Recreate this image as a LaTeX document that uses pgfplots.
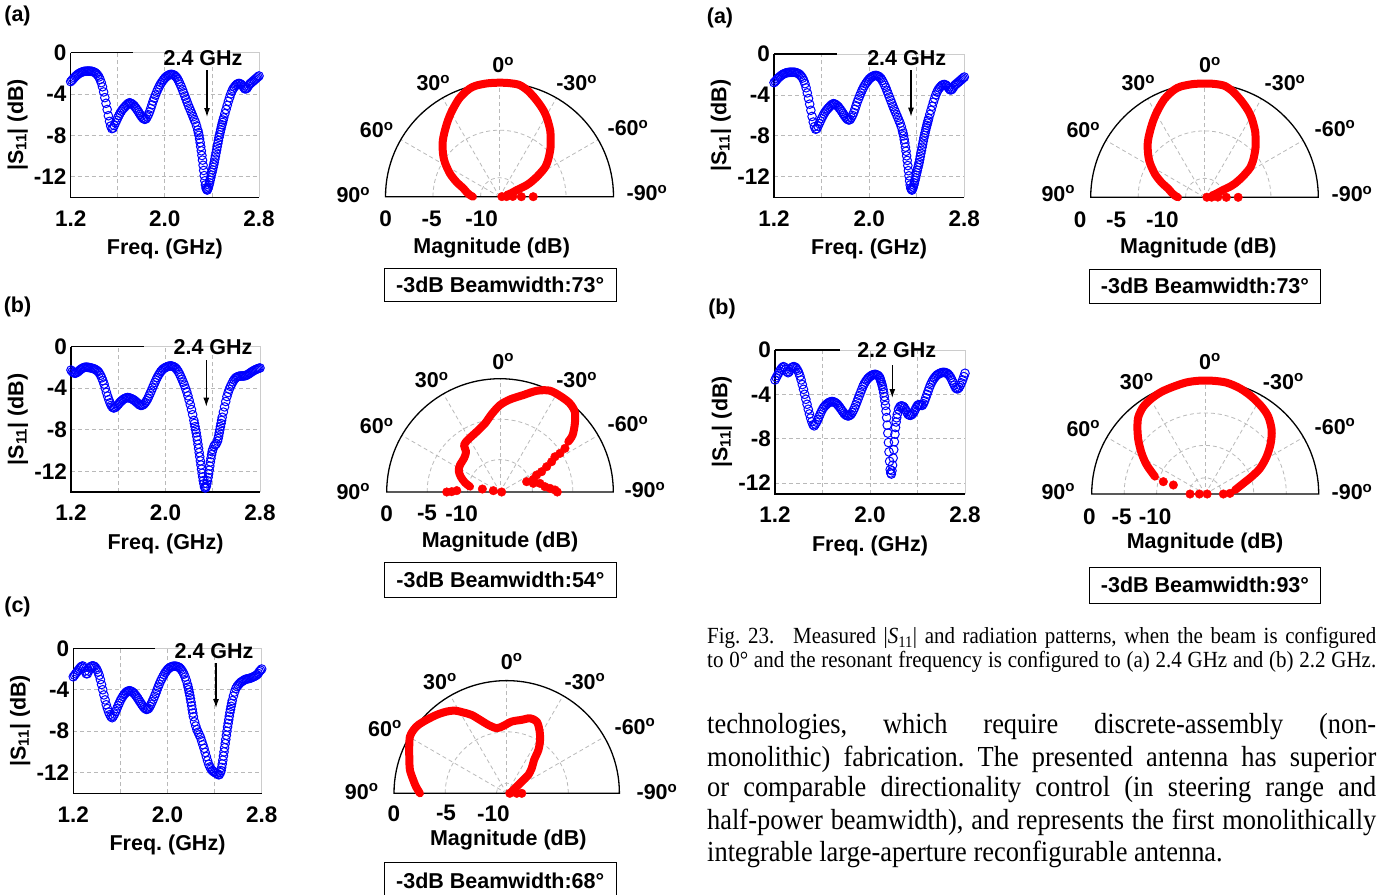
\documentclass[border=0pt]{standalone}
\usepackage{pgfplots}
\pgfplotsset{compat=1.18}
\usepackage{pgfplotstable}
\usepackage{graphicx}
\usepackage{fontspec}
\setmainfont{Liberation Serif}
\newfontfamily\sfb{Liberation Sans}
\usetikzlibrary{arrows.meta}
\frenchspacing

\newcommand\pf{\fontsize{21.5}{24}\selectfont\sfb\bfseries}
\newcommand\tf{\fontsize{22.5}{24}\selectfont\sfb\bfseries}
\newcommand\dg{\textsuperscript{o}}

% ---------- |S11| data (GHz, dB) ----------
\pgfplotstableread{
f s
1.20 -2.80
1.21 -2.68
1.22 -2.55
1.23 -2.42
1.24 -2.30
1.25 -2.20
1.26 -2.10
1.27 -2.02
1.28 -1.95
1.29 -1.90
1.30 -1.85
1.31 -1.82
1.32 -1.80
1.33 -1.79
1.34 -1.78
1.35 -1.78
1.36 -1.78
1.37 -1.79
1.38 -1.80
1.39 -1.84
1.40 -1.88
1.41 -1.95
1.42 -2.05
1.43 -2.18
1.44 -2.35
1.45 -2.60
1.46 -2.90
1.47 -3.30
1.48 -3.80
1.49 -4.35
1.50 -4.90
1.51 -5.50
1.52 -6.10
1.53 -6.65
1.54 -7.10
1.55 -7.35
1.56 -7.30
1.57 -7.05
1.58 -6.80
1.59 -6.55
1.60 -6.30
1.61 -6.07
1.62 -5.85
1.63 -5.67
1.64 -5.50
1.65 -5.37
1.66 -5.25
1.67 -5.12
1.68 -5.00
1.69 -4.90
1.70 -4.85
1.71 -4.88
1.72 -4.95
1.73 -5.05
1.74 -5.15
1.75 -5.30
1.76 -5.45
1.77 -5.62
1.78 -5.80
1.79 -5.98
1.80 -6.15
1.81 -6.30
1.82 -6.40
1.83 -6.45
1.84 -6.40
1.85 -6.22
1.86 -6.00
1.87 -5.72
1.88 -5.40
1.89 -5.05
1.90 -4.70
1.91 -4.40
1.92 -4.10
1.93 -3.82
1.94 -3.55
1.95 -3.32
1.96 -3.10
1.97 -2.92
1.98 -2.75
1.99 -2.60
2.00 -2.45
2.01 -2.35
2.02 -2.25
2.03 -2.18
2.04 -2.12
2.05 -2.10
2.06 -2.10
2.07 -2.13
2.08 -2.18
2.09 -2.28
2.10 -2.40
2.11 -2.58
2.12 -2.80
2.13 -3.05
2.14 -3.30
2.15 -3.60
2.16 -3.90
2.17 -4.20
2.18 -4.50
2.19 -4.80
2.20 -5.10
2.21 -5.38
2.22 -5.65
2.23 -5.92
2.24 -6.20
2.25 -6.48
2.26 -6.75
2.27 -7.10
2.28 -7.50
2.285 -7.75
2.29 -8.00
2.295 -8.35
2.30 -8.70
2.305 -9.10
2.31 -9.50
2.315 -9.95
2.32 -10.40
2.325 -10.90
2.33 -11.40
2.335 -11.90
2.34 -12.40
2.345 -12.80
2.35 -13.10
2.355 -13.22
2.36 -13.30
2.365 -13.18
2.37 -13.00
2.375 -12.80
2.38 -12.60
2.385 -12.35
2.39 -12.10
2.395 -11.85
2.40 -11.60
2.405 -11.35
2.41 -11.10
2.415 -10.85
2.42 -10.60
2.425 -10.30
2.43 -10.00
2.435 -9.70
2.44 -9.40
2.445 -9.10
2.45 -8.80
2.455 -8.50
2.46 -8.20
2.465 -7.95
2.47 -7.70
2.475 -7.45
2.48 -7.20
2.485 -6.97
2.49 -6.75
2.495 -6.52
2.50 -6.30
2.51 -5.90
2.52 -5.50
2.53 -5.10
2.54 -4.70
2.55 -4.35
2.56 -4.00
2.57 -3.72
2.58 -3.50
2.59 -3.33
2.60 -3.20
2.61 -3.08
2.62 -3.00
2.63 -2.98
2.64 -3.00
2.65 -3.08
2.66 -3.20
2.67 -3.35
2.68 -3.50
2.69 -3.50
2.70 -3.40
2.71 -3.22
2.72 -3.05
2.73 -2.95
2.74 -2.85
2.75 -2.75
2.76 -2.65
2.77 -2.55
2.78 -2.45
2.79 -2.35
2.80 -2.25
}\SA

\pgfplotstableread{
f s
1.20 -2.25
1.21 -2.40
1.22 -2.50
1.23 -2.55
1.24 -2.55
1.25 -2.48
1.26 -2.40
1.27 -2.30
1.28 -2.20
1.29 -2.12
1.30 -2.05
1.31 -2.00
1.32 -1.98
1.33 -1.97
1.34 -1.98
1.35 -2.00
1.36 -2.02
1.37 -2.05
1.38 -2.08
1.39 -2.11
1.40 -2.15
1.41 -2.22
1.42 -2.30
1.43 -2.40
1.44 -2.55
1.45 -2.75
1.46 -3.00
1.47 -3.28
1.48 -3.60
1.49 -4.00
1.50 -4.40
1.51 -4.77
1.52 -5.10
1.53 -5.40
1.54 -5.65
1.55 -5.82
1.56 -5.90
1.57 -5.88
1.58 -5.80
1.59 -5.68
1.60 -5.55
1.61 -5.42
1.62 -5.30
1.63 -5.20
1.64 -5.10
1.65 -5.02
1.66 -4.95
1.67 -4.92
1.68 -4.90
1.69 -4.92
1.70 -4.95
1.71 -5.00
1.72 -5.05
1.73 -5.12
1.74 -5.20
1.75 -5.30
1.76 -5.40
1.77 -5.50
1.78 -5.60
1.79 -5.65
1.80 -5.65
1.81 -5.60
1.82 -5.50
1.83 -5.37
1.84 -5.20
1.85 -5.00
1.86 -4.75
1.87 -4.50
1.88 -4.25
1.89 -3.97
1.90 -3.70
1.91 -3.45
1.92 -3.20
1.93 -2.97
1.94 -2.75
1.95 -2.57
1.96 -2.40
1.97 -2.27
1.98 -2.15
1.99 -2.07
2.00 -2.00
2.01 -1.95
2.02 -1.90
2.03 -1.87
2.04 -1.85
2.05 -1.86
2.06 -1.88
2.07 -1.93
2.08 -2.00
2.09 -2.11
2.10 -2.25
2.11 -2.43
2.12 -2.65
2.13 -2.90
2.14 -3.15
2.15 -3.42
2.16 -3.70
2.17 -4.02
2.18 -4.35
2.19 -4.73
2.20 -5.15
2.21 -5.58
2.22 -6.05
2.23 -6.55
2.24 -7.10
2.245 -7.40
2.25 -7.70
2.255 -8.00
2.26 -8.30
2.265 -8.65
2.27 -9.00
2.275 -9.40
2.28 -9.80
2.285 -10.20
2.29 -10.60
2.295 -11.00
2.30 -11.40
2.305 -11.80
2.31 -12.20
2.315 -12.55
2.32 -12.90
2.325 -13.20
2.33 -13.50
2.335 -13.60
2.34 -13.60
2.345 -13.45
2.35 -13.20
2.355 -12.90
2.36 -12.60
2.365 -12.25
2.37 -11.90
2.375 -11.50
2.38 -11.10
2.385 -10.75
2.39 -10.40
2.395 -10.12
2.40 -9.90
2.41 -9.60
2.42 -9.45
2.43 -9.35
2.44 -9.10
2.445 -8.85
2.45 -8.60
2.455 -8.30
2.46 -8.00
2.465 -7.70
2.47 -7.40
2.475 -7.10
2.48 -6.80
2.49 -6.30
2.50 -5.80
2.51 -5.28
2.52 -4.80
2.53 -4.42
2.54 -4.10
2.55 -3.83
2.56 -3.60
2.57 -3.38
2.58 -3.20
2.59 -3.05
2.60 -2.95
2.61 -2.90
2.62 -2.85
2.63 -2.83
2.64 -2.82
2.65 -2.82
2.66 -2.82
2.67 -2.80
2.68 -2.78
2.69 -2.72
2.70 -2.65
2.71 -2.58
2.72 -2.50
2.73 -2.42
2.74 -2.35
2.75 -2.28
2.76 -2.22
2.77 -2.17
2.78 -2.12
2.79 -2.08
2.80 -2.05
}\SB

\pgfplotstableread{
f s
1.20 -2.75
1.21 -2.60
1.22 -2.45
1.23 -2.30
1.24 -2.15
1.25 -2.00
1.26 -1.85
1.27 -1.75
1.28 -1.70
1.29 -1.90
1.30 -2.20
1.31 -2.45
1.32 -2.45
1.33 -2.20
1.34 -1.90
1.35 -1.75
1.36 -1.70
1.37 -1.70
1.38 -1.75
1.39 -1.88
1.40 -2.05
1.41 -2.30
1.42 -2.60
1.43 -3.02
1.44 -3.50
1.45 -4.00
1.46 -4.50
1.47 -4.98
1.48 -5.45
1.49 -5.82
1.50 -6.15
1.51 -6.40
1.52 -6.60
1.53 -6.70
1.54 -6.55
1.55 -6.35
1.56 -6.10
1.57 -5.83
1.58 -5.55
1.59 -5.30
1.60 -5.05
1.61 -4.83
1.62 -4.65
1.63 -4.48
1.64 -4.35
1.65 -4.23
1.66 -4.15
1.67 -4.11
1.68 -4.10
1.69 -4.13
1.70 -4.20
1.71 -4.29
1.72 -4.40
1.73 -4.54
1.74 -4.70
1.75 -4.87
1.76 -5.05
1.77 -5.22
1.78 -5.40
1.79 -5.56
1.80 -5.70
1.81 -5.82
1.82 -5.90
1.83 -5.88
1.84 -5.80
1.85 -5.62
1.86 -5.40
1.87 -5.16
1.88 -4.90
1.89 -4.63
1.90 -4.35
1.91 -4.05
1.92 -3.75
1.93 -3.47
1.94 -3.20
1.95 -2.97
1.96 -2.75
1.97 -2.55
1.98 -2.35
1.99 -2.20
2.00 -2.05
2.01 -1.95
2.02 -1.85
2.03 -1.80
2.04 -1.75
2.05 -1.73
2.06 -1.72
2.07 -1.73
2.08 -1.75
2.09 -1.79
2.10 -1.85
2.11 -1.96
2.12 -2.10
2.13 -2.28
2.14 -2.50
2.15 -2.78
2.16 -3.10
2.17 -3.50
2.175 -3.75
2.18 -4.00
2.185 -4.27
2.19 -4.55
2.195 -4.87
2.20 -5.20
2.205 -5.55
2.21 -5.90
2.215 -6.25
2.22 -6.60
2.23 -7.10
2.24 -7.50
2.25 -7.85
2.26 -8.10
2.27 -8.35
2.28 -8.60
2.29 -8.95
2.30 -9.30
2.31 -9.65
2.32 -10.05
2.33 -10.45
2.34 -10.85
2.35 -11.20
2.36 -11.45
2.37 -11.65
2.38 -11.80
2.39 -11.90
2.40 -11.95
2.41 -12.05
2.42 -12.10
2.43 -12.20
2.44 -12.20
2.45 -12.00
2.455 -11.80
2.46 -11.50
2.465 -11.17
2.47 -10.80
2.475 -10.40
2.48 -10.00
2.485 -9.60
2.49 -9.20
2.495 -8.80
2.50 -8.40
2.505 -8.00
2.51 -7.60
2.515 -7.25
2.52 -6.90
2.525 -6.55
2.53 -6.20
2.535 -5.90
2.54 -5.60
2.545 -5.32
2.55 -5.05
2.56 -4.60
2.57 -4.22
2.58 -3.90
2.59 -3.70
2.60 -3.55
2.61 -3.42
2.62 -3.30
2.63 -3.22
2.64 -3.15
2.65 -3.07
2.66 -3.00
2.67 -2.97
2.68 -2.95
2.69 -2.92
2.70 -2.90
2.71 -2.85
2.72 -2.80
2.73 -2.75
2.74 -2.70
2.75 -2.63
2.76 -2.55
2.77 -2.42
2.78 -2.25
2.79 -2.12
2.80 -2.00
}\SC

\pgfplotstableread{
f s
1.20 -2.70
1.21 -2.50
1.22 -2.30
1.23 -2.10
1.24 -1.90
1.25 -1.73
1.26 -1.60
1.27 -1.50
1.28 -1.55
1.29 -1.75
1.30 -1.95
1.31 -2.05
1.32 -1.95
1.33 -1.75
1.34 -1.60
1.35 -1.52
1.36 -1.50
1.37 -1.55
1.38 -1.65
1.39 -1.83
1.40 -2.05
1.41 -2.35
1.42 -2.70
1.43 -3.12
1.44 -3.55
1.45 -4.00
1.46 -4.45
1.47 -4.90
1.48 -5.35
1.49 -5.77
1.50 -6.15
1.51 -6.48
1.52 -6.75
1.53 -6.85
1.54 -6.70
1.55 -6.52
1.56 -6.30
1.57 -6.05
1.58 -5.80
1.59 -5.57
1.60 -5.35
1.61 -5.18
1.62 -5.05
1.63 -4.94
1.64 -4.85
1.65 -4.77
1.66 -4.70
1.67 -4.67
1.68 -4.65
1.69 -4.67
1.70 -4.70
1.71 -4.77
1.72 -4.85
1.73 -4.97
1.74 -5.10
1.75 -5.25
1.76 -5.40
1.77 -5.55
1.78 -5.70
1.79 -5.82
1.80 -5.90
1.81 -5.94
1.82 -5.95
1.83 -5.90
1.84 -5.80
1.85 -5.65
1.86 -5.45
1.87 -5.22
1.88 -4.95
1.89 -4.68
1.90 -4.40
1.91 -4.12
1.92 -3.85
1.93 -3.57
1.94 -3.30
1.95 -3.08
1.96 -2.90
1.97 -2.74
1.98 -2.60
1.99 -2.49
2.00 -2.40
2.01 -2.32
2.02 -2.25
2.03 -2.22
2.04 -2.20
2.05 -2.21
2.06 -2.25
2.07 -2.33
2.08 -2.45
2.085 -2.58
2.09 -2.75
2.095 -2.92
2.10 -3.10
2.105 -3.30
2.11 -3.55
2.115 -3.85
2.12 -4.20
2.125 -4.58
2.13 -5.00
2.135 -5.52
2.14 -6.10
2.145 -6.78
2.15 -7.50
2.155 -8.35
2.16 -9.20
2.165 -10.05
2.17 -10.80
2.175 -11.10
2.18 -11.20
2.185 -10.90
2.19 -10.40
2.195 -9.75
2.20 -9.00
2.205 -8.28
2.21 -7.60
2.215 -7.00
2.22 -6.50
2.225 -6.12
2.23 -5.80
2.24 -5.35
2.25 -5.15
2.26 -5.05
2.27 -5.05
2.28 -5.10
2.29 -5.22
2.30 -5.40
2.31 -5.60
2.32 -5.80
2.33 -5.88
2.34 -5.90
2.35 -5.85
2.36 -5.75
2.37 -5.60
2.38 -5.40
2.39 -5.18
2.40 -5.00
2.41 -4.93
2.42 -4.95
2.43 -5.00
2.44 -5.00
2.45 -4.85
2.46 -4.60
2.47 -4.30
2.48 -4.00
2.49 -3.70
2.50 -3.40
2.51 -3.13
2.52 -2.90
2.53 -2.71
2.54 -2.55
2.55 -2.42
2.56 -2.30
2.57 -2.22
2.58 -2.15
2.59 -2.09
2.60 -2.05
2.61 -2.03
2.62 -2.02
2.63 -2.03
2.64 -2.05
2.65 -2.11
2.66 -2.20
2.67 -2.33
2.68 -2.50
2.69 -2.72
2.70 -2.95
2.71 -3.18
2.72 -3.40
2.73 -3.50
2.74 -3.50
2.75 -3.38
2.76 -3.20
2.77 -2.97
2.78 -2.70
2.79 -2.40
2.80 -2.10
}\SD

% ---------- radiation patterns (angle deg, magnitude dB) ----------
\pgfplotstableread{
a m
90 -9.2
87 -8.9
82 -8.5
77 -8.1
71 -7.2
65 -6.25
58.5 -5.3
54.5 -4.75
50.5 -4.25
47 -3.8
43 -3.35
38.5 -2.85
34 -2.3
30 -1.8
26 -1.3
22.5 -0.85
19 -0.5
15.5 -0.2
12 -0.05
6 0.0
0 0.0
-5 0.0
-10 -0.05
-14.5 -0.4
-19 -0.9
-23 -1.35
-27 -1.8
-30.5 -2.25
-34 -2.75
-38 -3.3
-42 -3.95
-45.5 -4.45
-49 -5.0
-53 -5.6
-57 -6.25
-59.5 -6.9
-62 -7.55
-64.5 -8.2
-67 -8.9
-69 -10.05
-73 -10.7
-77 -11.2
}\PA
\pgfplotstableread{
a m
-88 -11.75
-89 -11.25
-89 -10.6
-90 -9.7
-90 -8.45
}\PAd

\pgfplotstableread{
a m
79.9 -10.24
75.1 -9.53
68.7 -8.79
62.7 -8.26
56.0 -8.04
46.9 -7.91
40.1 -7.49
37.5 -6.69
31.0 -6.41
21.1 -6.01
12.3 -5.32
6.1 -4.32
0 -3.26
-6.2 -2.49
-13.5 -1.68
-19.9 -0.70
-26.1 -0.05
-32 0.0
-38 -0.05
-43 -0.45
-47.5 -1.45
-51.9 -2.6
-53.6 -3.52
}\PB
\pgfplotstableread{
a m
-56.1 -4.33
-57.2 -5.19
-57.3 -5.93
-59.6 -6.6
-61.5 -7.44
-64 -8.28
-65.1 -9.01
-69.2 -9.6
-68.8 -10.47
-75.4 -9.75
-77.8 -8.95
-83.2 -8.41
-85.8 -7.81
-87.9 -7.2
-90 -6.92
80.4 -11.79
78.7 -13.16
88.2 -8.65
89.6 -8.03
90 -7.42
-90 -13.8
}\PBd

\pgfplotstableread{
a m
90 -2.53
85.8 -2.12
81.9 -1.79
76.4 -1.28
69.4 -0.84
64.4 -0.45
59.6 -0.05
55.8 0.0
52.3 -0.09
47.5 -0.39
41.8 -0.73
36.3 -1.1
32.0 -1.48
28.2 -2.05
24.1 -2.62
20.0 -3.37
15.0 -4.09
8.7 -4.57
2.8 -4.41
-4.0 -3.98
-11.6 -3.68
-17.3 -3.33
-22.7 -3.41
-27.3 -4.04
-32.0 -4.85
-36.2 -5.76
-39.4 -6.79
-45 -7.54
-49.8 -8.23
-50.7 -8.68
-53.1 -9.37
-59 -10.05
-71.6 -10.49
}\PC
\pgfplotstableread{
a m
-90 -10.02
-90 -9.53
-90 -10.7
}\PCd

\pgfplotstableread{
a m
70.9 -9.31
63.6 -7.43
57.4 -5.87
51.1 -4.25
45.2 -2.76
40.8 -1.74
35.3 -1.0
29.2 -0.6
23.0 -0.36
16.5 -0.24
9.4 -0.05
2.6 0.0
-4.1 0.0
-10.9 -0.02
-18.2 -0.35
-25.5 -0.87
-32.9 -1.47
-39.2 -2.11
-46.1 -3.28
-52.3 -4.74
-58.7 -6.42
-64.9 -8.17
-69.5 -9.85
-74.4 -11.4
-82.4 -12.86
}\PD
\pgfplotstableread{
a m
73.6 -10.77
74.2 -12.4
90 -15.16
90 -16.6
-90 -17.2
-88.5 -13.68
-90 -14.7
}\PDd

\pgfplotsset{
  sax/.style={anchor=north west, scale only axis, xmin=1.2, xmax=2.8, ymax=0,
    xtick={1.2,1.6,2.0,2.4,2.8}, ytick={0,-4,-8,-12},
    xticklabels={}, yticklabels={}, major tick length=0pt,
    grid=major, grid style={gray!55, dash pattern=on 4pt off 3pt, line width=0.8pt},
    axis line style={draw=none}, clip=false},
  scurve/.style={only marks, mark=o, color=blue, mark size=4.3pt, mark options={line width=1pt}},
  pax/.style={anchor=north west, scale only axis, hide axis, clip=false,
    xmin=-#1, xmax=#1, ymin=0, ymax=#1},
  table/ptab/.style={x expr={-(\thisrow{m}+#1)*sin(\thisrow{a})}, y expr={(\thisrow{m}+#1)*cos(\thisrow{a})}},
  pline/.style={color=red, line width=8pt, line cap=round, line join=round, smooth, tension=0.5, mark=none},
  pdots/.style={only marks, mark=*, color=red, mark size=4.3pt},
}
\tikzset{gridst/.style={gray!55, dash pattern=on 4pt off 3pt, line width=0.8pt}}

\newcommand\sframe[1]{%
  \draw[gray!40, line width=0.8pt] (rel axis cs:0,1) -- (rel axis cs:1,1) -- (rel axis cs:1,0);
  \draw[black, line width=1.2pt] (rel axis cs:0,1) -- (rel axis cs:0,0) -- (rel axis cs:1,0);
  \draw[black, line width=1.2pt] (rel axis cs:0,1) -- (axis cs:#1,0);}
\newcommand\sticks[1]{%
  \node[anchor=east,font=\tf,inner sep=0pt,xshift=-4pt] at (axis cs:1.2,0) {0};
  \node[anchor=east,font=\tf,inner sep=0pt,xshift=-4pt] at (axis cs:1.2,-4) {-4};
  \node[anchor=east,font=\tf,inner sep=0pt,xshift=-4pt] at (axis cs:1.2,-8) {-8};
  \node[anchor=east,font=\tf,inner sep=0pt,xshift=-4pt] at (axis cs:1.2,-12) {-12};
  \node[font=\tf,inner sep=0pt,yshift=-21pt] at (axis cs:1.2,#1) {1.2};
  \node[font=\tf,inner sep=0pt,yshift=-21pt] at (axis cs:2.0,#1) {2.0};
  \node[font=\tf,inner sep=0pt,yshift=-21pt] at (axis cs:2.8,#1) {2.8};
  \node[font=\pf,inner sep=0pt,yshift=-52pt] at (axis cs:2.0,#1) {Freq. (GHz)};
  \node[font=\pf,inner sep=0pt,xshift=-53pt,rotate=90] at (rel axis cs:0,0.5) {|S\textsubscript{11}| (dB)};}
\newcommand\pspokes[1]{\pgfplotsinvokeforeach{-60,-30,0,30,60}{\draw[gridst] (axis cs:0,0) -- (axis cs:{-#1*sin(##1)},{#1*cos(##1)});}}
\newcommand\pframe[2]{\draw[black,line width=1.3pt] (axis cs:-#1,0) arc[start angle=180,end angle=0,radius=#2pt] -- cycle;}
\newcommand\parc[2]{\draw[gridst] (axis cs:-#1,0) arc[start angle=180,end angle=0,radius=#2pt];}
\newcommand\capline[1]{\scalebox{1}[1.1]{\makebox[669pt][s]{#1}}}

\begin{document}
\begin{tikzpicture}
\path[use as bounding box] (0pt,0pt) rectangle (1388pt,-894pt);

% ===== S11 plots =====
\begin{axis}[sax, at={(70.7pt,-52.7pt)}, width=188.3pt, height=144.6pt, ymin=-14]
\addplot[scurve] table[x=f,y=s] {\SA};
\sframe{1.733}\sticks{-14}
\end{axis}

\begin{axis}[sax, at={(71pt,-346.7pt)}, width=189pt, height=145.3pt, ymin=-14]
\addplot[scurve] table[x=f,y=s] {\SB};
\sframe{1.818}\sticks{-14}
\end{axis}

\begin{axis}[sax, at={(73.3pt,-648.3pt)}, width=188.4pt, height=145pt, ymin=-14]
\addplot[scurve] table[x=f,y=s] {\SC};
\sframe{1.894}\sticks{-14}
\end{axis}

\begin{axis}[sax, at={(774pt,-54pt)}, width=190.3pt, height=143.3pt, ymin=-14]
\addplot[scurve] table[x=f,y=s] {\SA};
\sframe{1.727}\sticks{-14}
\end{axis}

\begin{axis}[sax, at={(775pt,-350pt)}, width=190pt, height=144pt, ymin=-13]
\addplot[scurve] table[x=f,y=s] {\SD};
\sframe{1.75}\sticks{-13}
\end{axis}

% ===== polar plots =====
\begin{axis}[pax=12, at={(385.5pt,-82.7pt)}, width=228pt, height=114pt]
\parc{7}{66.5}\parc{2}{19}\pspokes{12}\pframe{12}{114}
\addplot[pline] table[ptab=12] {\PA};
\addplot[pdots] table[ptab=12] {\PAd};
\end{axis}

\begin{axis}[pax=14, at={(386.7pt,-378.7pt)}, width=226.6pt, height=113.3pt]
\parc{9}{72.8}\parc{4}{32.4}\pspokes{14}\pframe{14}{113.3}
\addplot[pline] table[ptab=14] {\PB};
\addplot[pdots] table[ptab=14] {\PBd};
\end{axis}

\begin{axis}[pax=11, at={(394pt,-680.6pt)}, width=225.4pt, height=112.7pt]
\parc{6}{61.5}\parc{1}{10.2}\pspokes{11}\pframe{11}{112.7}
\addplot[pline] table[ptab=11] {\PC};
\addplot[pdots] table[ptab=11] {\PCd};
\end{axis}

\begin{axis}[pax=12, at={(1090.7pt,-83.5pt)}, width=227.6pt, height=113.8pt]
\parc{7}{66.4}\parc{2}{19}\pspokes{12}\pframe{12}{113.8}
\addplot[pline] table[ptab=12] {\PA};
\addplot[pdots] table[ptab=12] {\PAd};
\end{axis}

\begin{axis}[pax=17.5, at={(1091.7pt,-380.5pt)}, width=227pt, height=113.5pt]
\parc{12.5}{81.1}\parc{7.5}{48.6}\parc{2.5}{16.2}\pspokes{17.5}\pframe{17.5}{113.5}
\addplot[pline] table[ptab=17.5] {\PD};
\addplot[pdots] table[ptab=17.5] {\PDd};
\end{axis}

% ===== texts =====
\begin{scope}[x=1pt,y=-1pt]
\tikzset{every node/.style={inner sep=0pt}}
% panel letters
\node[font=\pf] at (17.5,16) {(a)};
\node[font=\pf] at (17.5,307) {(b)};
\node[font=\pf] at (17.5,607) {(c)};
\node[font=\pf] at (720,18) {(a)};
\node[font=\pf] at (722,309) {(b)};
% frequency markers
\node[font=\pf] at (203,58) {2.4 GHz};
\draw[-{Latex[length=9pt,width=6pt]}, line width=1.2pt] (207,70) -- (207,117);
\node[font=\pf] at (213,346.7) {2.4 GHz};
\draw[-{Latex[length=9pt,width=6pt]}, line width=1.2pt] (206.3,360) -- (206.3,406.7);
\node[font=\pf] at (214,651) {2.4 GHz};
\draw[-{Latex[length=9pt,width=6pt]}, line width=1.2pt] (216,663) -- (216,708);
\node[font=\pf] at (906.7,58) {2.4 GHz};
\draw[-{Latex[length=9pt,width=6pt]}, line width=1.2pt] (911,70) -- (911,116.7);
\node[font=\pf] at (896.7,350) {2.2 GHz};
\draw[-{Latex[length=9pt,width=6pt]}, line width=1.2pt] (892.3,365) -- (892.3,398);

% polar labels left (a)
\node[font=\pf] at (503.3,65) {0\dg};
\node[font=\pf] at (433.3,83.3) {30\dg};
\node[font=\pf] at (576.7,83.3) {-30\dg};
\node[font=\pf] at (376.7,130) {60\dg};
\node[font=\pf] at (628,128) {-60\dg};
\node[font=\pf] at (353.3,195) {90\dg};
\node[font=\pf] at (647,193) {-90\dg};
\node[font=\tf] at (385.7,219) {0};
\node[font=\tf] at (431.7,219) {-5};
\node[font=\tf] at (481.7,219) {-10};
\node[font=\pf] at (491.7,248.3) {Magnitude (dB)};
\draw[line width=1pt] (384.3,268.3) rectangle (616,301.7);
\node[font=\pf] at (500.2,285) {-3dB Beamwidth:73°};

% polar labels left (b)
\node[font=\pf] at (503.3,361.7) {0\dg};
\node[font=\pf] at (431.7,380) {30\dg};
\node[font=\pf] at (576.7,380) {-30\dg};
\node[font=\pf] at (376.7,426) {60\dg};
\node[font=\pf] at (628,424) {-60\dg};
\node[font=\pf] at (353.3,491.7) {90\dg};
\node[font=\pf] at (645,490) {-90\dg};
\node[font=\tf] at (386.7,513.3) {0};
\node[font=\tf] at (427,513.3) {-5};
\node[font=\tf] at (461.7,513.3) {-10};
\node[font=\pf] at (500,541.7) {Magnitude (dB)};
\draw[line width=1pt] (384.3,562.7) rectangle (616.7,597.7);
\node[font=\pf] at (500.5,580) {-3dB Beamwidth:54°};

% polar labels left (c)
\node[font=\pf] at (511.7,661.7) {0\dg};
\node[font=\pf] at (440,681.7) {30\dg};
\node[font=\pf] at (585,681.7) {-30\dg};
\node[font=\pf] at (385,728.3) {60\dg};
\node[font=\pf] at (635,726.7) {-60\dg};
\node[font=\pf] at (361.7,791.7) {90\dg};
\node[font=\pf] at (657,792) {-90\dg};
\node[font=\tf] at (394,813.3) {0};
\node[font=\tf] at (446,813.3) {-5};
\node[font=\tf] at (493.3,813.3) {-10};
\node[font=\pf] at (508.3,840) {Magnitude (dB)};
\draw[line width=1pt] (384.3,862.7) rectangle (616,900);
\node[font=\pf] at (500.2,880.7) {-3dB Beamwidth:68°};

% polar labels right (a)
\node[font=\pf] at (1210,65) {0\dg};
\node[font=\pf] at (1138.3,83.3) {30\dg};
\node[font=\pf] at (1285,83.3) {-30\dg};
\node[font=\pf] at (1083.3,130) {60\dg};
\node[font=\pf] at (1335,128.3) {-60\dg};
\node[font=\pf] at (1058.3,193.3) {90\dg};
\node[font=\pf] at (1352,194) {-90\dg};
\node[font=\tf] at (1080,220) {0};
\node[font=\tf] at (1116,220) {-5};
\node[font=\tf] at (1162.3,220) {-10};
\node[font=\pf] at (1198.3,248.3) {Magnitude (dB)};
\draw[line width=1pt] (1089.3,269.3) rectangle (1320.7,303.3);
\node[font=\pf] at (1205,286) {-3dB Beamwidth:73°};

% polar labels right (b)
\node[font=\pf] at (1210,361.7) {0\dg};
\node[font=\pf] at (1136.7,381.7) {30\dg};
\node[font=\pf] at (1283.3,381.7) {-30\dg};
\node[font=\pf] at (1083.3,428.3) {60\dg};
\node[font=\pf] at (1335,426.7) {-60\dg};
\node[font=\pf] at (1058.3,491.7) {90\dg};
\node[font=\pf] at (1352,492) {-90\dg};
\node[font=\tf] at (1089.3,516.7) {0};
\node[font=\tf] at (1121.7,516.7) {-5};
\node[font=\tf] at (1155,516.7) {-10};
\node[font=\pf] at (1205,543.3) {Magnitude (dB)};
\draw[line width=1pt] (1089.3,567.7) rectangle (1320,603.3);
\node[font=\pf] at (1205,585) {-3dB Beamwidth:93°};

% caption
\node[anchor=west, font=\fontsize{21}{24}\selectfont] at (707,638) {\capline{Fig.~23.\hspace{0.9em}Measured |\textit{S}\textsubscript{11}| and radiation patterns, when the beam is configured}};
\node[anchor=west, font=\fontsize{21}{24}\selectfont] at (707,662) {\capline{to 0° and the resonant frequency is configured to (a) 2.4 GHz and (b) 2.2 GHz.}};
% body text
\node[anchor=west, font=\fontsize{26.4}{31}\selectfont] at (707,727) {\scalebox{1}[1.1]{\makebox[669pt][s]{technologies, which require discrete-assembly (non-}}};
\node[anchor=west, font=\fontsize{26.4}{31}\selectfont] at (707,759) {\scalebox{1}[1.1]{\makebox[669pt][s]{monolithic) fabrication. The presented antenna has superior}}};
\node[anchor=west, font=\fontsize{26.4}{31}\selectfont] at (707,790) {\scalebox{1}[1.1]{\makebox[669pt][s]{or comparable directionality control (in steering range and}}};
\node[anchor=west, font=\fontsize{26.4}{31}\selectfont] at (707,822) {\scalebox{1}[1.1]{\makebox[669pt][s]{half-power beamwidth), and represents the first monolithically}}};
\node[anchor=west, font=\fontsize{26.4}{31}\selectfont] at (707,854) {\scalebox{1}[1.1]{integrable large-aperture reconfigurable antenna.}};
\end{scope}
\end{tikzpicture}
\end{document}
